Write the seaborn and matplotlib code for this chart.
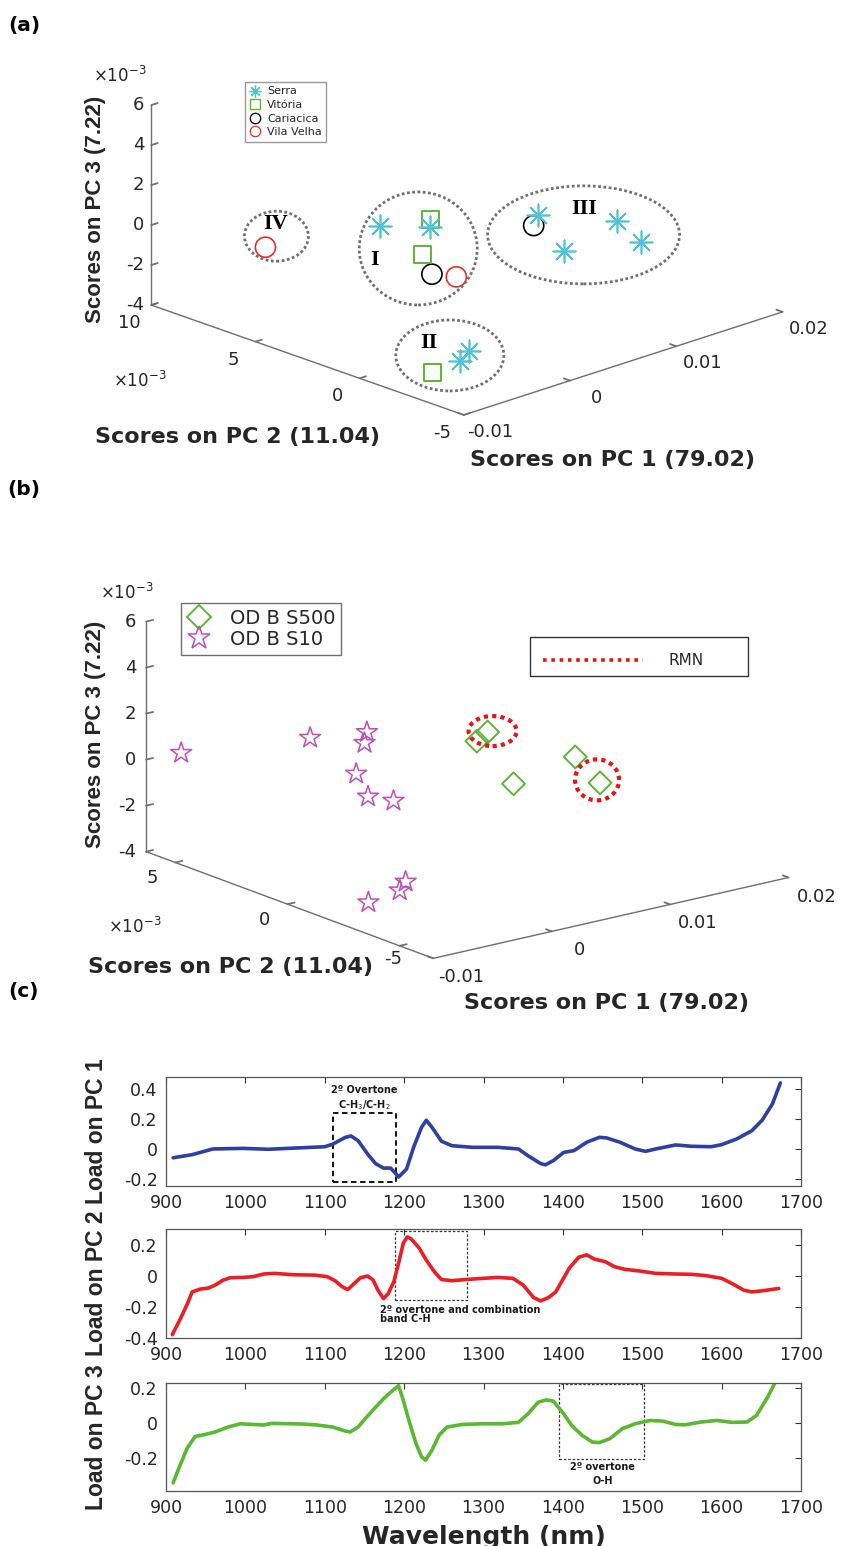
#!/usr/bin/env python3
"""
PCA of NIR spectra: 3D score plots (a, b) and loadings on PC1-PC3 (c).
"""
import numpy as np
import pandas as pd
import matplotlib
matplotlib.use('Agg')
import matplotlib.pyplot as plt
import seaborn as sns
from matplotlib.lines import Line2D
from matplotlib.patches import Ellipse, Rectangle
from matplotlib.ticker import FuncFormatter
from matplotlib.transforms import IdentityTransform
from mpl_toolkits.mplot3d import proj3d

W, H, DPI = 851, 1546, 100

# (a) scores by city -- PC1 as is, PC2 and PC3 in units of 1e-3
serra_pc1 = [-0.0022, 0.0005, 0.0107, 0.0142, 0.0145, 0.0092, -0.0056, -0.0064]
serra_pc2 = [3, 2, 2, 0, -1, 0, -3, -3]
serra_pc3 = [1.17, 1.02, -0.11, -0.27, -1.04, -0.94, -2.31, -2.63]
serra_grp = ['I', 'I', 'III', 'III', 'III', 'III', 'II', 'II']
vitoria_pc1 = [0.0016, -0.0021, -0.0071]
vitoria_pc2 = [2.5, 1, -2]
vitoria_pc3 = [1.03, 0.45, -3.47]
vitoria_grp = ['I', 'I', 'II']
cariacica_pc1 = [-0.0032, 0.0103]
cariacica_pc2 = [0, 2]
cariacica_pc3 = [0.04, -0.58]
cariacica_grp = ['I', 'III']
vilavelha_pc1 = [-0.0071, -0.0009]
vilavelha_pc2 = [6, 0]
vilavelha_pc3 = [-0.14, -0.49]
vilavelha_grp = ['IV', 'I']

# (b) scores of the two sample sets (same units)
s500_pc1 = [0.0060, 0.0069, 0.0072, 0.0162, 0.0164]
s500_pc2 = [0, 0, -1, 1, 0]
s500_pc3 = [1.21, 1.50, -0.42, -1.03, -1.82]
s10_pc1 = [-0.0095, -0.0024, 0.0005, 0.0003, -0.0023, -0.0013, -0.0001, -0.0076, -0.0081, -0.0098]
s10_pc2 = [5, 3, 2, 2, 1, 1, 0.5, -4, -4, -3.5]
s10_pc3 = [0.70, 1.25, 1.52, 1.07, 0.40, -0.71, -0.85, -1.86, -2.18, -2.68]
rmn_idx = [1, 4]  # S500 samples also measured by RMN

# (c) loadings
wl_pc1 = [909, 933, 959, 997, 1029, 1062, 1100, 1110, 1126, 1133, 1142, 1154, 1164, 1174, 1183,
          1190, 1193, 1203, 1212, 1222, 1228, 1235, 1247, 1260, 1286, 1318, 1344, 1356, 1372, 1378,
          1388, 1401, 1414, 1430, 1446, 1455, 1472, 1491, 1504, 1517, 1542, 1562, 1587, 1600, 1619,
          1638, 1651, 1664, 1674]
load_pc1 = [-0.061, -0.040, -0.002, 0.002, -0.004, 0.004, 0.013, 0.030, 0.076, 0.085, 0.054, -0.036,
            -0.100, -0.130, -0.130, -0.170, -0.190, -0.137, 0.010, 0.144, 0.190, 0.144, 0.050, 0.020,
            0.009, 0.009, -0.002, -0.047, -0.100, -0.108, -0.080, -0.025, -0.013, 0.043, 0.076, 0.072,
            0.043, -0.002, -0.018, -0.002, 0.025, 0.016, 0.013, 0.027, 0.065, 0.120, 0.190, 0.300, 0.440]
wl_pc2 = [908, 917, 927, 933, 943, 953, 962, 972, 981, 997, 1010, 1023, 1036, 1062, 1087, 1103, 1113,
          1122, 1129, 1135, 1145, 1154, 1161, 1167, 1174, 1180, 1187, 1193, 1199, 1204, 1209, 1219,
          1228, 1238, 1247, 1260, 1279, 1299, 1318, 1337, 1350, 1363, 1372, 1382, 1391, 1408, 1420,
          1430, 1440, 1453, 1465, 1478, 1497, 1517, 1542, 1562, 1581, 1600, 1613, 1628, 1638, 1651, 1672]
load_pc2 = [-0.378, -0.288, -0.180, -0.104, -0.086, -0.080, -0.060, -0.028, -0.013, -0.011, -0.006,
            0.011, 0.015, 0.006, 0.004, -0.006, -0.032, -0.071, -0.089, -0.060, -0.013, -0.002, -0.028,
            -0.093, -0.147, -0.115, -0.039, 0.080, 0.210, 0.249, 0.236, 0.177, 0.100, 0.026, -0.024,
            -0.032, -0.024, -0.017, -0.011, -0.017, -0.060, -0.140, -0.162, -0.140, -0.104, 0.048, 0.119,
            0.134, 0.106, 0.091, 0.058, 0.041, 0.030, 0.015, 0.011, 0.009, 0.000, -0.017, -0.050, -0.093,
            -0.104, -0.097, -0.082]
wl_pc3 = [909, 917, 927, 937, 946, 962, 978, 994, 1010, 1023, 1033, 1062, 1074, 1090, 1110, 1126, 1132,
          1142, 1151, 1164, 1174, 1183, 1193, 1199, 1206, 1215, 1222, 1227, 1235, 1244, 1254, 1273, 1299,
          1324, 1344, 1356, 1369, 1379, 1388, 1401, 1411, 1424, 1437, 1446, 1459, 1475, 1491, 1510, 1526,
          1542, 1554, 1574, 1594, 1613, 1632, 1644, 1658, 1667, 1675]
load_pc3 = [-0.343, -0.250, -0.141, -0.076, -0.069, -0.051, -0.023, -0.004, -0.008, -0.011, -0.002,
            -0.004, -0.006, -0.011, -0.023, -0.046, -0.051, -0.023, 0.025, 0.091, 0.139, 0.177, 0.215,
            0.130, 0.015, -0.118, -0.194, -0.213, -0.156, -0.070, -0.023, -0.008, -0.004, -0.004, 0.004,
            0.053, 0.120, 0.133, 0.126, 0.053, -0.013, -0.070, -0.109, -0.112, -0.090, -0.032, -0.004,
            0.015, 0.011, -0.008, -0.010, 0.006, 0.015, 0.004, 0.006, 0.044, 0.149, 0.229, 0.300]

# Colours
CYAN, GREEN, RED, MAGENTA = '#4fc2d9', '#5db534', '#ee2a2a', '#c04fb8'
AXIS_GREY, TEXT = '#6e6e6e', '#262626'

sns.set_theme(style='white')
plt.rcParams['font.family'] = ['DejaVu Sans']
plt.rcParams['axes.unicode_minus'] = False
plt.rcParams['mathtext.fontset'] = 'dejavusans'

fig = plt.figure(figsize=(W / DPI, H / DPI), dpi=DPI)


def fx(x):
    return x / W


def fy(y):
    return 1 - y / H


def project(ax, xs, ys, zs):
    """3D data -> display pixels (origin bottom-left)."""
    px, py, _ = proj3d.proj_transform(np.asarray(xs, float), np.asarray(ys, float),
                                      np.asarray(zs, float), ax.get_proj())
    return ax.transData.transform(np.column_stack([px, py]))


def fit_box(ax, lims, targets):
    """Move/scale the 3D axes so the box corners land near the target pixels."""
    (x0, x1), (y0, y1), (z0, z1) = lims
    fig.canvas.draw()
    g = project(ax, [x0, x1, x0, x0], [y0, y0, y1, y1], [z0, z0, z0, z1])
    t = np.array([[tx, H - ty] for tx, ty in targets], float)
    gc, tc = g - g.mean(0), t - t.mean(0)
    s = (gc * tc).sum() / (gc ** 2).sum()
    c = t.mean(0) - s * g.mean(0)
    bb = ax.get_position()
    ax.set_position([(c[0] + s * bb.x0 * W) / W, (c[1] + s * bb.y0 * H) / H,
                     s * bb.width, s * bb.height])


def setup_3d(rect, lims, elev, azim, aspect, yticks):
    ax = fig.add_axes(rect, projection='3d', proj_type='ortho')
    ax.set_xlim(*lims[0])
    ax.set_ylim(*lims[1])
    ax.set_zlim(*lims[2])
    ax.view_init(elev=elev, azim=azim)
    ax.set_box_aspect(aspect)
    ax.grid(False)
    ax.set_facecolor((1, 1, 1, 0))
    for axis in (ax.xaxis, ax.yaxis, ax.zaxis):
        axis.set_pane_color((1, 1, 1, 0))
        axis.pane.set_edgecolor((1, 1, 1, 0))
        axis.line.set_color(AXIS_GREY)
        axis.line.set_linewidth(1.0)
        axis._axinfo['tick']['inward_factor'] = 0.0
        axis._axinfo['tick']['outward_factor'] = 0.25
    # tick labels are drawn by hand (MATLAB-like placement), keep only the marks
    ax.set_xticks(X_TICKS, [''] * len(X_TICKS))
    ax.set_yticks(yticks, [''] * len(yticks))
    ax.set_zticks(Z_TICKS, [''] * len(Z_TICKS))
    ax.tick_params(axis='both', color=AXIS_GREY)
    ax.tick_params(axis='z', color=AXIS_GREY)
    return ax


def label_ticks(ax, lims, yticks, offs, yshift=None):
    """Write the tick labels next to the projected tick positions (pixel offsets)."""
    (x0, x1), (y0, y1), (z0, z1) = lims
    yshift = yshift or {}
    n = len(X_TICKS)
    p = project(ax, X_TICKS, [y0] * n, [z0] * n)
    for (px, py), v in zip(p, X_TICKS):
        fig.text(fx(px + offs['x'][0]), (py - offs['x'][1]) / H, f'{v:g}', ha='center', va='center',
                 fontsize=13, color=TEXT)
    n = len(yticks)
    p = project(ax, [x0] * n, yticks, [z0] * n)
    for (px, py), v in zip(p, yticks):
        dx, dy = yshift.get(v, (0, 0))
        fig.text(fx(px + offs['y'][0] + dx), (py - offs['y'][1] - dy) / H, f'{v:g}', ha='center',
                 va='center', fontsize=13, color=TEXT)
    n = len(Z_TICKS)
    p = project(ax, [x0] * n, [y1] * n, Z_TICKS)
    for (px, py), v in zip(p, Z_TICKS):
        fig.text(fx(px + offs['z'][0]), (py - offs['z'][1]) / H, f'{v:g}', ha='right', va='center',
                 fontsize=13, color=TEXT)


def dotted_ellipse(xy, w, h, color, lw, dash):
    fig.add_artist(Ellipse(xy, w, h, transform=IdentityTransform(), fill=False,
                           ec=color, lw=lw, ls=(0, dash)))


X_TICKS = [-0.01, 0, 0.01, 0.02]
Z_TICKS = [-4, -2, 0, 2, 4, 6]

# ---------------- (a) ----------------
lims_a = ((-0.01, 0.02), (-5, 10), (-4, 6))
yt_a = [-5, 0, 5, 10]
ax_a = setup_3d([0.1, 0.6, 0.8, 0.4], lims_a, 19.7, -133.8, (445, 455, 214), yt_a)
sets_a = [
    ('Serra', serra_pc1, serra_pc2, serra_pc3, serra_grp, dict(marker=(8, 2, 0), s=260, c=CYAN, linewidths=1.2)),
    ('Vitória', vitoria_pc1, vitoria_pc2, vitoria_pc3, vitoria_grp,
     dict(marker='s', s=150, facecolors='none', edgecolors=GREEN, linewidths=1.4)),
    ('Cariacica', cariacica_pc1, cariacica_pc2, cariacica_pc3, cariacica_grp,
     dict(marker='o', s=210, facecolors='none', edgecolors='black', linewidths=1.2)),
    ('Vila Velha', vilavelha_pc1, vilavelha_pc2, vilavelha_pc3, vilavelha_grp,
     dict(marker='o', s=210, facecolors='none', edgecolors=RED, linewidths=1.2)),
]
for name, p1, p2, p3, grp, kw in sets_a:
    ax_a.scatter(p1, p2, p3, depthshade=False, **kw)
fit_box(ax_a, lims_a, [(462, 416), (783, 312), (152, 305), (152, 104)])

# ---------------- (b) ----------------
lims_b = ((-0.01, 0.02), (-6.5, 6.3), (-4, 6))
yt_b = [-5, 0, 5]
ax_b = setup_3d([0.1, 0.3, 0.8, 0.4], lims_b, 16.9, -128.05, (452, 467, 241), yt_b)
ax_b.scatter(s500_pc1, s500_pc2, s500_pc3, marker='D', s=135, facecolors='none',
             edgecolors=GREEN, linewidths=1.4, depthshade=False)
ax_b.scatter(s10_pc1, s10_pc2, s10_pc3, marker='*', s=250, facecolors='none',
             edgecolors=MAGENTA, linewidths=1.1, depthshade=False)
fit_box(ax_b, lims_b, [(433, 959), (788, 878), (145, 852), (148, 620)])

fig.canvas.draw()
label_ticks(ax_a, lims_a, yt_a, {'x': (26, 17), 'y': (-22, 18), 'z': (-7, 0)})
# the '-5' of (b) sits just right of the PC2 title so the two do not collide
label_ticks(ax_b, lims_b, yt_b, {'x': (28, 19), 'y': (-23, 16), 'z': (-10, 0)}, yshift={-5: (16, -3)})

# cluster ellipses of (a): centre offset from the group centroid, size (px), label offset
groups_a = {
    'I': ((-7, 2), (118, 113), (-51, 14)),
    'II': ((-4, -6), (108, 71), (-25, -18)),
    'III': ((5, 4), (192, 98), (6, -22)),
    'IV': ((11, -11), (64, 50), (10, -23)),
}
pts, labs = [], []
for name, p1, p2, p3, grp, kw in sets_a:
    pts.append(project(ax_a, p1, p2, p3))
    labs += grp
pts = np.vstack(pts)
labs = np.array(labs)
for g, (off, size, loff) in groups_a.items():
    cx, cy = pts[labs == g].mean(0)
    dotted_ellipse((cx + off[0], cy - off[1]), size[0], size[1], '#707070', 2.0, (1, 0.9))
    fig.text(fx(cx + loff[0]), (cy - loff[1]) / H, g, ha='center', va='center',
             family='Liberation Serif', fontweight='bold', fontsize=16, color='black')

# RMN ellipses of (b)
p = project(ax_b, s500_pc1, s500_pc2, s500_pc3)
for i, off, size in [(rmn_idx[0], (5, -1), (48, 30)), (rmn_idx[1], (-3, -3), (44, 41))]:
    dotted_ellipse((p[i, 0] + off[0], p[i, 1] - off[1]), size[0], size[1], '#ee1111', 3.0, (1, 1))

# legends
leg_a = [Line2D([], [], ls='none', marker=(8, 2, 0), ms=8.5, mec=CYAN, mew=0.9),
         Line2D([], [], ls='none', marker='s', ms=6.5, mfc='none', mec=GREEN, mew=1),
         Line2D([], [], ls='none', marker='o', ms=7.5, mfc='none', mec='black', mew=0.9),
         Line2D([], [], ls='none', marker='o', ms=7.5, mfc='none', mec=RED, mew=0.9)]
fig.legend(leg_a, [s[0] for s in sets_a], loc='upper left', bbox_to_anchor=(fx(245), fy(82)),
           fontsize=8, frameon=True, fancybox=False, edgecolor='#9a9a9a', framealpha=1,
           handlelength=1.0, handletextpad=0.6, labelspacing=0.32, borderpad=0.4, borderaxespad=0)
leg_b = [Line2D([], [], ls='none', marker='D', ms=12, mfc='none', mec=GREEN, mew=1.4),
         Line2D([], [], ls='none', marker='*', ms=17, mfc='none', mec=MAGENTA, mew=1.1)]
fig.legend(leg_b, ['OD B S500', 'OD B S10'], loc='upper left', bbox_to_anchor=(fx(181), fy(603)),
           fontsize=14, frameon=True, fancybox=False, edgecolor='#707070', framealpha=1,
           handlelength=1.3, handletextpad=0.9, labelspacing=0.1, borderpad=0.3, borderaxespad=0)
fig.add_artist(Rectangle((fx(530), fy(676)), (748 - 530) / W, (676 - 637) / H,
                         transform=fig.transFigure, fill=False, ec='#333333', lw=1.0))
fig.add_artist(Line2D([fx(543), fx(643)], [fy(660), fy(660)], transform=fig.transFigure,
                      color='#ee1111', lw=2.6, ls=(0, (1, 1.3))))
fig.text(fx(686), fy(661), 'RMN', ha='center', va='center', fontsize=11, color=TEXT)

# 3D axis labels and exponents
bold_h = dict(fontsize=16, fontweight='bold', color=TEXT, ha='center', va='center')
bold_v = dict(fontsize=16, fontweight='bold', color=TEXT, ha='center', va='center',
              rotation=90, family='Liberation Sans')
fig.text(fx(96), fy(209), 'Scores on PC 3 (7.22)', **bold_v)
fig.text(fx(238), fy(437), 'Scores on PC 2 (11.04)', **bold_h)
fig.text(fx(613), fy(460), 'Scores on PC 1 (79.02)', **bold_h)
fig.text(fx(95), fy(734), 'Scores on PC 3 (7.22)', **bold_v)
fig.text(fx(230), fy(967), 'Scores on PC 2 (11.04)', **bold_h)
fig.text(fx(607), fy(1003), 'Scores on PC 1 (79.02)', **bold_h)
for x, y in [(120, 76), (140, 381), (127, 593), (135, 927)]:
    fig.text(fx(x), fy(y), r'$\times10^{-3}$', ha='center', va='center', fontsize=12, color=TEXT)
for x, y, s in [(24, 25, '(a)'), (24, 490, '(b)'), (24, 992, '(c)')]:
    fig.text(fx(x), fy(y), s, ha='center', va='center', fontsize=14.5, fontweight='bold', color='black')

# ---------------- (c) ----------------
loads = [
    ('Load on PC 1', wl_pc1, load_pc1, '#2e40a4', (1077, 1186), (-0.25, 0.48), [-0.2, 0, 0.2, 0.4]),
    ('Load on PC 2', wl_pc2, load_pc2, '#ee1d23', (1229, 1338), (-0.4, 0.3), [-0.4, -0.2, 0, 0.2]),
    ('Load on PC 3', wl_pc3, load_pc3, '#5ab831', (1383, 1491), (-0.39, 0.23), [-0.2, 0, 0.2]),
]
axes_c = []
for label, wl, ld, color, (top, bot), ylim, yt in loads:
    ax = fig.add_axes([fx(166), fy(bot), (801 - 166) / W, (bot - top) / H])
    df = pd.DataFrame({'Wavelength (nm)': wl, label: ld})
    sns.lineplot(data=df, x='Wavelength (nm)', y=label, ax=ax, color=color, lw=2.6)
    ax.set_xlim(900, 1700)
    ax.set_ylim(*ylim)
    ax.set_xticks(range(900, 1701, 100))
    ax.set_yticks(yt)
    ax.yaxis.set_major_formatter(FuncFormatter(lambda v, _: f'{v:g}'))
    ax.tick_params(direction='in', top=True, right=True, length=4, width=0.8, color='#333333',
                   labelsize=12.5, labelcolor=TEXT, pad=6)
    for sp in ax.spines.values():
        sp.set_color('#555555')
        sp.set_linewidth(0.9)
    ax.set_xlabel('')
    ax.set_ylabel(label, fontsize=16.5, fontweight='bold', family='Liberation Sans', color=TEXT)
    ax.yaxis.set_label_coords((108 - 166) / 635, 0.5)
    axes_c.append(ax)

ax1, ax2, ax3 = axes_c
ax3.set_xlabel('Wavelength (nm)', fontsize=18, fontweight='bold', color=TEXT)
ax3.xaxis.set_label_coords(0.5, (1491 - 1537) / 108)
ax3.xaxis.label.set_va('center')

note = dict(fontsize=7, fontweight='bold', color='#1a1a1a', va='center')
ax1.add_patch(Rectangle((1110, -0.22), 80, 0.46, fill=False, ec='black', lw=1.3, ls=(0, (3, 2))))
ax1.text(1150, 0.39, '2º Overtone', ha='center', **note)
ax1.text(1150, 0.29, r'C-H$_3$/C-H$_2$', ha='center', **note)
ax2.add_patch(Rectangle((1188, -0.154), 91, 0.444, fill=False, ec='#333333', lw=0.9, ls=(0, (2, 1.5))))
ax2.text(1169, -0.22, '2º overtone and combination', ha='left', **note)
ax2.text(1169, -0.277, 'band C-H', ha='left', **note)
ax3.add_patch(Rectangle((1395, -0.208), 107, 0.433, fill=False, ec='#333333', lw=0.9, ls=(0, (2, 1.5))))
ax3.text(1450, -0.25, '2º overtone', ha='center', **note)
ax3.text(1450, -0.33, 'O-H', ha='center', **note)

fig.savefig('out.png', dpi=DPI)
